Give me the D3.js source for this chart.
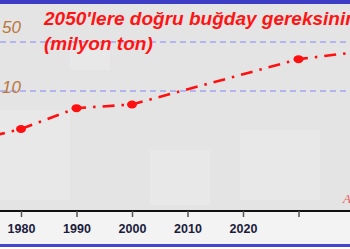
<!DOCTYPE html>
<html>
<head>
<meta charset="utf-8">
<script src="https://cdn.jsdelivr.net/npm/d3@7"></script>
<style>
  body { margin: 0; background: #fff; }
  svg { display: block; }
</style>
</head>
<body>
<div id="chart"></div>
<script>
(() => {

  // wheat demand, million tons
  let years = [1970, 1980, 1990, 2000, 2030, 2050]
  let demand = [68, 79, 96, 99, 136, 147]
  let marked = [false, true, true, true, true, false]
  let x_ticks = [1980, 1990, 2000, 2010, 2020, 2030, 2040]
  let x_labels = ["1980", "1990", "2000", "2010", "2020", "", ""]
  let y_grid = [150, 110]
  let y_labels = ["50", "10"]
  let title_lines = ["2050'lere doğru buğday gereksinimi", "(milyon ton)"]

  let W = 350, H = 249
  let svg = d3.select("#chart")
  .append("svg")
  .attr("width", W)
  .attr("height", H)

  let axis_y = 211

  // plot background
  svg.append("rect")
  .attr("x", 0).attr("y", 0)
  .attr("width", W).attr("height", axis_y)
  .attr("fill", "#e4e4e4")

  // faint lighter blocks of the background texture
  let blocks = [[70, 40, 40, 30], [240, 130, 80, 70], [0, 110, 70, 90], [150, 150, 60, 55]]
  svg.selectAll(".blk")
  .data(blocks)
  .enter()
  .append("rect")
  .attr("x", d => d[0]).attr("y", d => d[1])
  .attr("width", d => d[2]).attr("height", d => d[3])
  .attr("fill", "#e8e8e8")

  // area below axis
  svg.append("rect")
  .attr("x", 0).attr("y", axis_y)
  .attr("width", W).attr("height", 33)
  .attr("fill", "#f3f3f3")

  // blue frame pieces
  svg.append("rect")
  .attr("x", 0).attr("y", 0)
  .attr("width", W).attr("height", 4)
  .attr("fill", "#3c3cc4")
  svg.append("rect")
  .attr("x", 0).attr("y", 244)
  .attr("width", W).attr("height", 3)
  .attr("fill", "#4646cc")

  let x = d3.scaleLinear()
  .domain([1980, 1990])
  .range([21, 76.5])

  let y = d3.scaleLinear()
  .domain([110, 150])
  .range([91, 42])

  // gridlines
  svg.selectAll(".grid")
  .data(y_grid)
  .enter()
  .append("line")
  .attr("x1", 0).attr("x2", W)
  .attr("y1", d => y(d)).attr("y2", d => y(d))
  .attr("stroke", "#a4a4f2")
  .attr("stroke-width", 1.5)
  .attr("stroke-dasharray", "6,4")

  // y labels
  let label_dy = [-9, 2]
  svg.selectAll(".ylab")
  .data(y_grid)
  .enter()
  .append("text")
  .attr("x", 2)
  .attr("y", (d, i) => y(d) + label_dy[i])
  .style("font", "italic 17px 'Liberation Sans', Arial, sans-serif")
  .style("fill", "#b8783e")
  .text((d, i) => y_labels[i])

  // title (runs past the right edge, as in the original)
  svg.selectAll(".title")
  .data(title_lines)
  .enter()
  .append("text")
  .attr("x", 44)
  .attr("y", (d, i) => 25 + i * 25)
  .style("font", "italic bold 19px 'Liberation Sans', Arial, sans-serif")
  .style("fill", "#ff1414")
  .text(d => d)

  // x axis
  let x_axis = svg.append("g")
  .attr("transform", "translate(0," + axis_y + ")")
  .call(d3.axisBottom(x)
    .tickValues(x_ticks)
    .tickSize(6)
    .tickFormat((d, i) => x_labels[i]))

  x_axis.select(".domain")
  .attr("d", "M0,0H" + W)
  .attr("stroke", "#111")
  .attr("stroke-width", 2)

  x_axis.selectAll(".tick line")
  .attr("stroke", "#555")
  .attr("stroke-width", 1.5)

  x_axis.selectAll(".tick text")
  .attr("dy", "1.0em")
  .style("font", "bold 12.5px 'Liberation Sans', Arial, sans-serif")
  .style("fill", "#1c1c3c")

  // demand line
  let pts = years.map((yr, i) => ({year: yr, val: demand[i], mark: marked[i]}))

  let line = d3.line()
  .x(d => x(d.year))
  .y(d => y(d.val))

  svg.append("path")
  .datum(pts)
  .attr("d", line)
  .attr("fill", "none")
  .attr("stroke", "#ff1010")
  .attr("stroke-width", 2.6)
  .attr("stroke-dasharray", "12,7,2.5,7")

  svg.selectAll(".pt")
  .data(pts.filter(d => d.mark))
  .enter()
  .append("ellipse")
  .attr("cx", d => x(d.year))
  .attr("cy", d => y(d.val))
  .attr("rx", 5)
  .attr("ry", 4)
  .attr("fill", "#ff1010")

  // cut-off source letter at the right
  svg.append("text")
  .attr("x", 343)
  .attr("y", 203)
  .style("font", "italic 13px 'Liberation Serif', serif")
  .style("fill", "#e86060")
  .text("A")

})()
</script>
</body>
</html>
